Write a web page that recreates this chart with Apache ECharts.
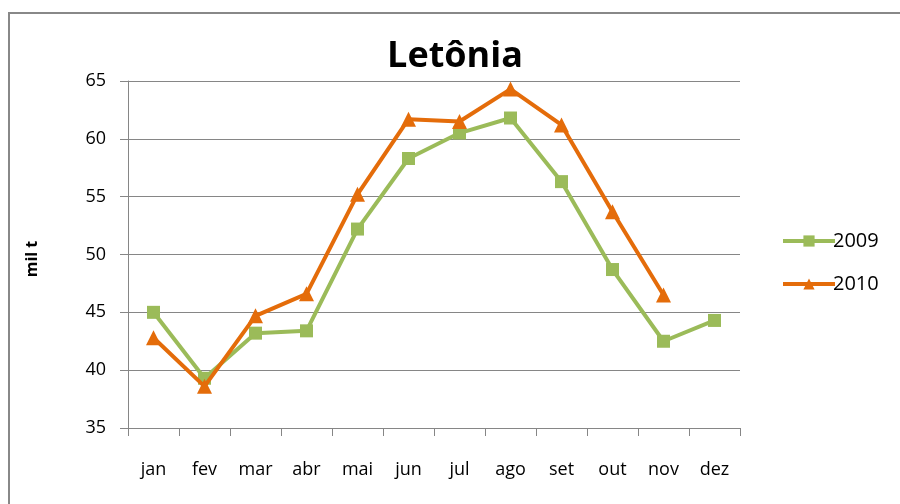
<!DOCTYPE html>
<html><head><meta charset="utf-8">
<script src="https://cdn.jsdelivr.net/npm/echarts@6/dist/echarts.min.js"></script>
<style>html,body{margin:0;padding:0;background:#fff}#c{width:900px;height:504px}</style>
</head><body><div id="c"></div>
<script>
const months = ['jan','fev','mar','abr','mai','jun','jul','ago','set','out','nov','dez'];
const s2009 = [45.0, 39.3, 43.2, 43.4, 52.2, 58.3, 60.5, 61.8, 56.3, 48.7, 42.5, 44.3];
const s2010 = [42.8, 38.6, 44.7, 46.6, 55.2, 61.7, 61.5, 64.3, 61.2, 53.7, 46.5, null];
const yTicks = [35, 40, 45, 50, 55, 60, 65];
const yName = 'mil t';
const font = '"Open Sans", "Liberation Sans", sans-serif';
const chart = echarts.init(document.getElementById('c'));
chart.setOption({
  animation: false,
  backgroundColor: '#fff',
  graphic: [
    {type: 'rect', shape: {x: 9, y: 13, width: 920, height: 520},
     style: {fill: 'none', stroke: '#888', lineWidth: 2}, silent: true, z: -1},
    {type: 'text', x: 32, y: 259, rotation: Math.PI / 2,
     style: {text: yName, fontFamily: font, fontWeight: 'bold', fontSize: 16, fill: '#000',
             align: 'center', verticalAlign: 'middle'}}
  ],
  title: {
    text: 'Letônia', left: 450, top: 34, textAlign: 'center',
    textStyle: {fontFamily: font, fontWeight: 'bold', fontSize: 36, color: '#000'}
  },
  legend: {
    orient: 'vertical', left: 776, top: 226, itemGap: 23, itemWidth: 52, itemHeight: 14,
    textStyle: {fontFamily: font, fontSize: 20, color: '#000', padding: [0,0,0,-7]},
    data: [
      {name: '2009', itemStyle: {color: '#9BBB59'}, lineStyle: {width: 4, color: '#9BBB59'}},
      {name: '2010', itemStyle: {color: '#E46C0A'}, lineStyle: {width: 4, color: '#E46C0A'}}
    ]
  },
  grid: {left: 128, top: 81, width: 612, height: 347},
  xAxis: {
    type: 'category', data: months, boundaryGap: true,
    axisLine: {lineStyle: {color: '#868686', width: 1}},
    axisTick: {show: true, length: 8, inside: false, lineStyle: {color: '#868686'}},
    axisLabel: {fontFamily: font, fontSize: 18, color: '#000', margin: 33}
  },
  yAxis: {
    type: 'value', min: 35, max: 65, interval: 5,
    axisLine: {show: true, lineStyle: {color: '#868686', width: 1}},
    axisTick: {show: true, length: 8, lineStyle: {color: '#868686'}},
    splitLine: {lineStyle: {color: '#868686', width: 1}},
    axisLabel: {fontFamily: font, fontSize: 18, color: '#000', margin: 22,
      formatter: v => yTicks.includes(v) ? String(v) : ''}
  },
  series: [
    {name: '2009', type: 'line', data: s2009, symbol: 'rect', symbolSize: 13,
     lineStyle: {color: '#9BBB59', width: 4}, itemStyle: {color: '#9BBB59'}, z: 2},
    {name: '2010', type: 'line', data: s2010, symbol: 'triangle', symbolSize: 15,
     lineStyle: {color: '#E46C0A', width: 4}, itemStyle: {color: '#E46C0A'}, z: 3}
  ]
});
</script></body></html>
